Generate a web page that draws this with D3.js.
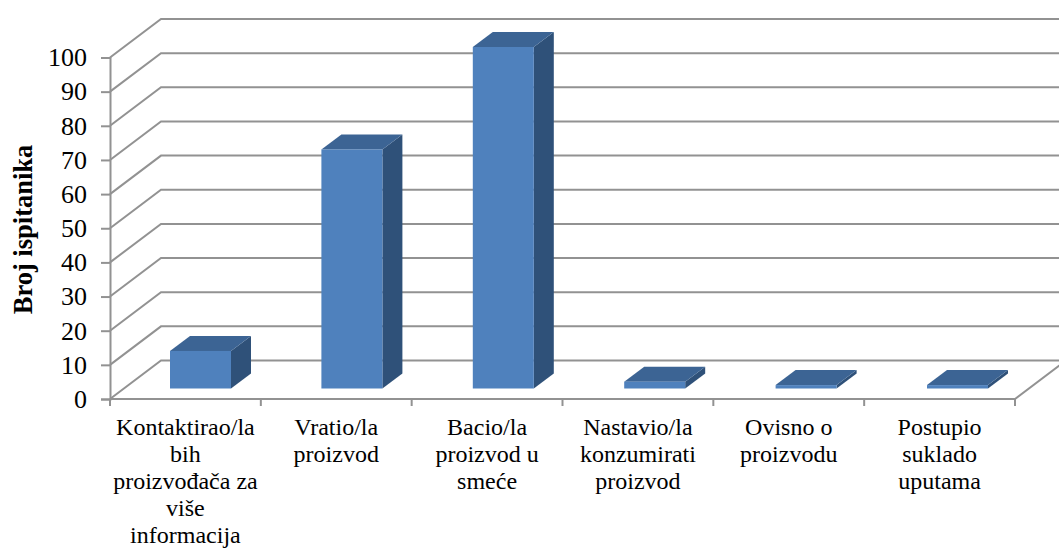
<!DOCTYPE html>
<html>
<head>
<meta charset="utf-8">
<script src="https://cdn.jsdelivr.net/npm/d3@7"></script>
<style>
  body { margin: 0; background: #fff; }
  svg { display: block; }
  text { font-family: "Liberation Serif", serif; fill: #000; }
</style>
</head>
<body>
<div id="canvas"></div>
<script>
const categories = ["Kontaktirao/la", "Vratio/la", "Bacio/la", "Nastavio/la", "Ovisno o", "Postupio"];
const labelLines = [
  ["Kontaktirao/la", "bih", "proizvođača za", "više", "informacija"],
  ["Vratio/la", "proizvod"],
  ["Bacio/la", "proizvod u", "smeće"],
  ["Nastavio/la", "konzumirati", "proizvod"],
  ["Ovisno o", "proizvodu"],
  ["Postupio", "suklado", "uputama"]
];
const values = [11, 70, 100, 2, 1, 1];
const yTicks = [0, 10, 20, 30, 40, 50, 60, 70, 80, 90, 100];
const yTitle = "Broj ispitanika";

const width = 1059;
const height = 549;
// depth of the 3D box, floor and bar
const back = { dx: 51, dy: -38.5 };
const barDepth = { dx: 20, dy: -15 };
const barLift = -10.5;

const svg = d3.select("#canvas").append("svg")
  .attr("width", width)
  .attr("height", height);

const x = d3.scaleBand().domain(categories).range([110, 1015]);
// bars sit on the floor further back, so they get their own band
const barX = d3.scaleBand().domain(categories).range([124.8, 1033.2]);
const y = d3.scaleLinear().domain([0, 100]).range([399, 57.5]);

const gridColor = "#929292";

// walls
svg.append("g").selectAll("path").data(yTicks).enter().append("path")
  .attr("fill", "none")
  .attr("stroke", gridColor)
  .attr("stroke-width", 2)
  .attr("d", d => `M${x.range()[0]},${y(d)}L${x.range()[0] + back.dx},${y(d) + back.dy}L${width + 5},${y(d) + back.dy}`);

// floor front edge and right side
svg.append("path")
  .attr("fill", "none")
  .attr("stroke", gridColor)
  .attr("stroke-width", 2)
  .attr("d", `M${x.range()[0]},${y(0)}L${x.range()[1]},${y(0)}L${x.range()[1] + back.dx},${y(0) + back.dy}`);

// axes
const yAxis = svg.append("g")
  .attr("transform", `translate(${x.range()[0]},0)`)
  .call(d3.axisLeft(y).tickValues(yTicks).tickSize(9).tickPadding(14));
yAxis.selectAll("line, path").attr("stroke", gridColor).attr("stroke-width", 2);
yAxis.selectAll("text").style("font-size", "26px").style("font-family", '"Liberation Serif", serif').attr("fill", "#000");

svg.append("g").selectAll("line").data(categories.concat(["end"])).enter().append("line")
  .attr("x1", d => d === "end" ? x.range()[1] : x(d))
  .attr("x2", d => d === "end" ? x.range()[1] : x(d))
  .attr("y1", y(0))
  .attr("y2", y(0) + 7)
  .attr("stroke", gridColor)
  .attr("stroke-width", 2);

// bars
const barW = 61;
const bars = svg.append("g").selectAll("g").data(values).enter().append("g")
  .attr("transform", (d, i) => `translate(${barX(categories[i]) + (barX.bandwidth() - barW) / 2},${y(0) + barLift})`);

const h = d => y(0) - y(d);

bars.append("path")
  .attr("fill", "#2f5179")
  .attr("d", d => `M${barW},0L${barW + barDepth.dx},${barDepth.dy}L${barW + barDepth.dx},${-h(d) + barDepth.dy}L${barW},${-h(d)}Z`);
bars.append("path")
  .attr("fill", "#3c6494")
  .attr("d", d => `M0,${-h(d)}L${barDepth.dx},${-h(d) + barDepth.dy}L${barW + barDepth.dx},${-h(d) + barDepth.dy}L${barW},${-h(d)}Z`);
bars.append("rect")
  .attr("fill", "#4f81bd")
  .attr("x", 0)
  .attr("y", d => -h(d))
  .attr("width", barW)
  .attr("height", d => h(d));

// category labels
const labels = svg.append("g").selectAll("text").data(labelLines).enter().append("text")
  .attr("text-anchor", "middle")
  .style("font-size", "24px")
  .attr("transform", (d, i) => `translate(${x(categories[i]) + x.bandwidth() / 2},0)`);
labels.selectAll("tspan").data(d => d).enter().append("tspan")
  .attr("x", 0)
  .attr("y", (d, i) => 435 + i * 27)
  .text(d => d);

// axis title
svg.append("text")
  .attr("transform", "translate(32,229.5) rotate(-90)")
  .attr("text-anchor", "middle")
  .style("font-size", "26.5px")
  .style("font-weight", "bold")
  .text(yTitle);
</script>
</body>
</html>
